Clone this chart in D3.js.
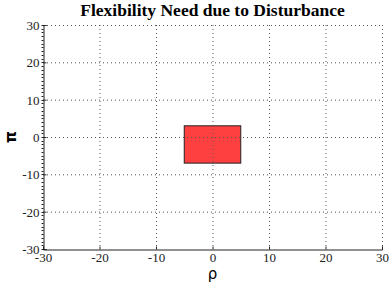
<!DOCTYPE html>
<html>
<head>
<meta charset="utf-8">
<script src="https://cdn.jsdelivr.net/npm/d3@7"></script>
<style>
  body { margin: 0; background: #fff; }
  text { font-family: "Liberation Serif", "DejaVu Serif", serif; }
</style>
</head>
<body>
<div id="chart"></div>
<script>
// data
var xTicks = [-30, -20, -10, 0, 10, 20, 30];
var yTicks = [-30, -20, -10, 0, 10, 20, 30];
var rhoRange = [-5, 5];   // disturbance box, rho
var piRange = [-7, 3];    // disturbance box, pi

var width = 389, height = 285;
var margin = {left: 43, right: 7, top: 25, bottom: 36};

var svg = d3.select("#chart").append("svg")
  .attr("width", width)
  .attr("height", height);

var x = d3.scaleLinear().domain([-30, 30]).range([margin.left, width - margin.right]);
var y = d3.scaleLinear().domain([-30, 30]).range([height - margin.bottom, margin.top]);

// box
svg.append("rect")
  .attr("x", x(rhoRange[0]))
  .attr("y", y(piRange[1]))
  .attr("width", x(rhoRange[1]) - x(rhoRange[0]))
  .attr("height", y(piRange[0]) - y(piRange[1]))
  .attr("fill", "#ff4040")
  .attr("stroke", "#222")
  .attr("stroke-width", 1);

// grid (dotted, drawn over the box)
svg.append("g").selectAll("line")
  .data(xTicks.slice(1))
  .join("line")
  .attr("x1", d => x(d) + 0.5).attr("x2", d => x(d) + 0.5)
  .attr("y1", y(30)).attr("y2", y(-30))
  .attr("stroke", "#555").attr("stroke-width", 1)
  .attr("stroke-dasharray", "1,3");

svg.append("g").selectAll("line")
  .data(yTicks.slice(1))
  .join("line")
  .attr("x1", x(-30)).attr("x2", x(30))
  .attr("y1", d => y(d) + 0.5).attr("y2", d => y(d) + 0.5)
  .attr("stroke", "#555").attr("stroke-width", 1)
  .attr("stroke-dasharray", "1,3");

// axes
var fmt = d => String(d);
var xAxis = svg.append("g")
  .attr("transform", "translate(0," + (y(-30) + 0.5) + ")")
  .call(d3.axisBottom(x).tickValues(xTicks).tickSize(-3).tickPadding(5).tickFormat(fmt));
var yAxis = svg.append("g")
  .attr("transform", "translate(" + (x(-30) + 0.5) + ",0)")
  .call(d3.axisLeft(y).tickValues(yTicks).tickSize(-3).tickPadding(4).tickFormat(fmt));

// minor ticks on the left axis
svg.append("g").selectAll("line")
  .data(d3.range(-30, 31, 1))
  .join("line")
  .attr("x1", x(-30) - 1.5).attr("x2", x(-30) + 0.5)
  .attr("y1", d => Math.round(y(d)) + 0.5).attr("y2", d => Math.round(y(d)) + 0.5)
  .attr("stroke", "#222");

[xAxis, yAxis].forEach(function(a) {
  a.select(".domain").attr("stroke", "#222");
  a.selectAll(".tick line").attr("stroke", "#222");
  a.selectAll("text")
    .style("font-family", "'Liberation Serif', serif")
    .style("font-size", "13px")
    .attr("fill", "#222");
});
yAxis.selectAll("text").attr("dy", "0.35em");
xAxis.selectAll("text").attr("dy", "0.6em");

// title and labels
svg.append("text")
  .attr("x", (x(-30) + x(30)) / 2)
  .attr("y", 16)
  .attr("text-anchor", "middle")
  .style("font-size", "17.5px")
  .style("font-weight", "bold")
  .text("Flexibility Need due to Disturbance");

svg.append("text")
  .attr("x", (x(-30) + x(30)) / 2)
  .attr("y", 279)
  .attr("text-anchor", "middle")
  .style("font-family", "'DejaVu Sans', sans-serif")
  .style("font-size", "15px")
  .text("ρ");

svg.append("text")
  .attr("transform", "translate(16," + y(0) + ") rotate(-90)")
  .attr("text-anchor", "middle")
  .style("font-family", "'DejaVu Sans', sans-serif")
  .style("font-size", "15px")
  .style("font-weight", "bold")
  .text("π");
</script>
</body>
</html>
